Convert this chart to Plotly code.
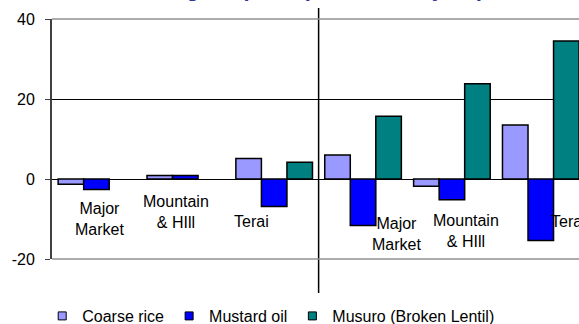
import plotly.graph_objects as go

# Market categories (two regional groups of three markets)
categories = ["Major Market A", "Mountain & Hill A", "Terai A",
              "Major Market B", "Mountain & Hill B", "Terai B"]
label_text = ["Major<br>Market", "Mountain<br>& HIll", "Terai",
              "Major<br>Market", "Mountain<br>& HIll", "Terai"]
# label anchor positions (category units, value units)
label_x = [0.03, 0.89, 1.75, 3.38, 4.16, 5.31]
label_y = [-10.0, -8.3, -10.7, -13.8, -12.9, -10.5]

# Percentage change in price
coarse_rice = [-1.3, 0.9, 5.1, 6.0, -1.8, 13.5]
mustard_oil = [-2.6, 0.9, -6.9, -11.6, -5.2, -15.4]
musuro = [None, None, 4.2, 15.7, 23.8, 34.5]

y_ticks = [-20, 0, 20, 40]
y_tick_labels = ["-20", "0", "20", "40"]

series = [
    ("Coarse rice", coarse_rice, "#9999FF"),
    ("Mustard oil", mustard_oil, "#0000FF"),
    ("Musuro (Broken Lentil)", musuro, "#008080"),
]

FONT = "Liberation Sans, Arial, sans-serif"
x_idx = list(range(len(categories)))

fig = go.Figure()
for name, vals, color in series:
    fig.add_trace(go.Bar(
        x=x_idx, y=vals, name=name, showlegend=False,
        marker=dict(color=color, line=dict(color="black", width=1.5)),
    ))
# compact square legend keys
for name, vals, color in series:
    fig.add_trace(go.Scatter(
        x=[None], y=[None], name=name, mode="markers",
        marker=dict(symbol="square", size=8, color=color,
                    line=dict(color="black", width=1)),
    ))

for lx, ly, txt in zip(label_x, label_y, label_text):
    fig.add_annotation(x=lx, y=ly, text=txt, showarrow=False,
                       font=dict(family=FONT, size=16, color="black"),
                       align="center")

# chart title (runs off the top edge)
fig.add_annotation(xref="paper", yref="paper", x=0.484, y=1,
                   xanchor="center", yanchor="bottom", yshift=16,
                   text="Change in price (% over last year)", showarrow=False,
                   font=dict(family=FONT, size=22, color="#333399", weight="bold"))

# separator between the two groups
fig.add_shape(type="line", xref="x", yref="paper", x0=2.5, x1=2.5,
              y0=-0.142, y1=1.046, line=dict(color="black", width=1.5),
              layer="above")
# plot-area border top and bottom
for yy in (0, 1):
    fig.add_shape(type="line", xref="paper", yref="paper", x0=0, x1=1,
                  y0=yy, y1=yy, line=dict(color="#909090", width=1.5),
                  layer="above")

fig.update_layout(
    width=579, height=324,
    margin=dict(l=52, r=0, t=19, b=65, autoexpand=False),
    paper_bgcolor="white", plot_bgcolor="white",
    barmode="group", bargap=0.138, bargroupgap=0,
    font=dict(family=FONT, size=16, color="black"),
    showlegend=True,
    legend=dict(orientation="h", x=0.415, xanchor="center", y=-0.2375,
                yanchor="middle", font=dict(family=FONT, size=16),
                itemwidth=30, tracegroupgap=0),
)
fig.update_xaxes(range=[-0.5, 5.43], showticklabels=False, ticks="",
                 showgrid=False, zeroline=False, showline=False)
fig.update_yaxes(range=[-20, 40], tickvals=y_ticks, ticktext=y_tick_labels,
                 showgrid=True, gridcolor="black", gridwidth=1,
                 zeroline=True, zerolinecolor="black", zerolinewidth=1,
                 showline=True, linecolor="#404040", linewidth=2,
                 ticks="outside", ticklen=5, tickcolor="#404040", tickwidth=1,
                 ticklabelstandoff=7,
                 tickfont=dict(family=FONT, size=16, color="black"))

fig.write_html("out.html")
